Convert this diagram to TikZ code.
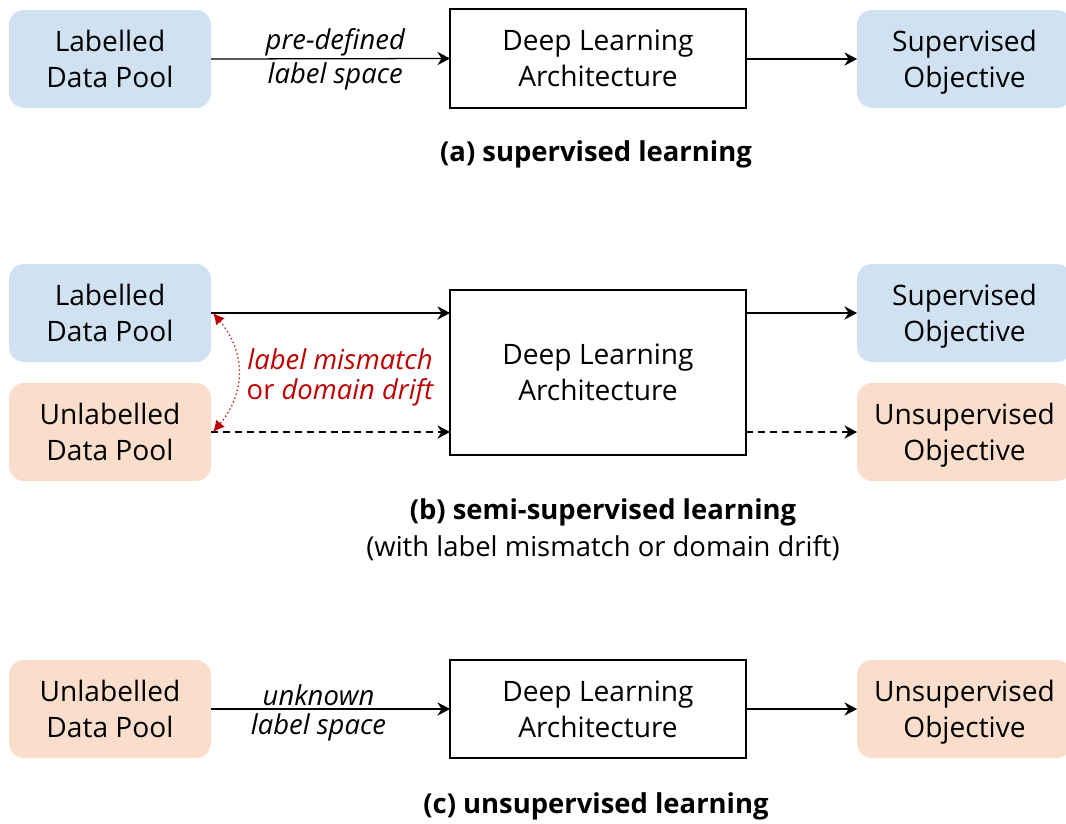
\documentclass[tikz,border=0pt]{standalone}
\usepackage{fontspec}
\setmainfont{Open Sans}
\usetikzlibrary{arrows.meta}
\definecolor{poolblue}{HTML}{D0E1F2}
\definecolor{poolorange}{HTML}{FADDCB}
\definecolor{driftred}{HTML}{C00000}
\newdimen\pxu
\pxu=0.025cm
\tikzset{
  x=0.025cm, y=-0.025cm,
  every node/.style={inner sep=0pt, outer sep=0pt},
  mainfont/.style={font=\fontsize{20}{25.6}\selectfont},
  pool/.style={mainfont, rounded corners=0.38cm, minimum width=202*\pxu, minimum height=98*\pxu, align=center, text depth=-1.5pt},
  bluepool/.style={pool, fill=poolblue},
  orangepool/.style={pool, fill=poolorange},
  archbox/.style={mainfont, draw=black, line width=1pt, minimum width=296*\pxu, align=center, text depth=-1.5pt},
  flow/.style={line width=0.9pt, -{Stealth[length=9pt, width=9.5pt, inset=3pt]}},
  dflow/.style={flow, dash pattern=on 5pt off 3.5pt},
  edgelabel/.style={font=\fontsize{19.5}{22.5}\selectfont\itshape, align=center},
  caption/.style={font=\fontsize{19.5}{24}\selectfont\bfseries},
  subcaption/.style={font=\fontsize{19.5}{24}\selectfont},
  drift/.style={driftred, line width=0.9pt, dotted, {Latex[length=8pt,width=8pt]}-{Latex[length=8pt,width=8pt]}}
}
\begin{document}
\begin{tikzpicture}
\useasboundingbox (0,0) rectangle (1066,823);

% (a) supervised learning
\node[bluepool, anchor=north west] (aL) at (9,10) {Labelled\\Data Pool};
\node[archbox, minimum height=99*\pxu, anchor=north west] (aD) at (450,9) {Deep Learning\\Architecture};
\node[bluepool, anchor=north west, minimum width=215*\pxu] (aS) at (857,10) {Supervised\\Objective};
\draw[flow] (aL.east) -- (aD.west)
  node[edgelabel, pos=0.52, above=2pt] {pre-defined}
  node[edgelabel, pos=0.52, below=3pt] {label space};
\draw[flow] (aD.east |- aS.west) -- (aS.west);
\node[caption] (aC) at (596,154) {(a) supervised learning};

% (b) semi-supervised learning
\node[bluepool, anchor=north west] (bL) at (9,264) {Labelled\\Data Pool};
\node[orangepool, anchor=north west] (bU) at (9,383) {Unlabelled\\Data Pool};
\node[archbox, minimum height=165*\pxu, anchor=north west] (bD) at (450,290) {Deep Learning\\Architecture};
\node[bluepool, anchor=north west, minimum width=215*\pxu] (bS) at (857,264) {Supervised\\Objective};
\node[orangepool, anchor=north west, minimum width=215*\pxu] (bO) at (857,383) {Unsupervised\\Objective};
\coordinate (bLo) at ([xshift=1.5pt]bL.east);
\coordinate (bUo) at ([xshift=1.5pt]bU.east);
\draw[flow] (bL.east) -- (bL.east -| bD.west);
\draw[dflow] (bU.east) -- (bU.east -| bD.west);
\draw[flow] (bD.east |- bS.west) -- (bS.west);
\draw[dflow] (bD.east |- bO.west) -- (bO.west);
\draw[drift] (bLo) to[out=-50, in=50, looseness=1.1] (bUo);
\node[edgelabel, driftred, anchor=center] (bM) at (340,359) {label mismatch};
\node[edgelabel, driftred, anchor=center] (bR) at (340,392) {\upshape or \itshape domain drift};
\node[caption] (bC) at (603,512) {(b) semi-supervised learning};
\node[subcaption] (bC2) at (603,548) {(with label mismatch or domain drift)};

% (c) unsupervised learning
\node[orangepool, anchor=north west] (cU) at (9,660) {Unlabelled\\Data Pool};
\node[archbox, minimum height=98*\pxu, anchor=north west] (cD) at (450,660) {Deep Learning\\Architecture};
\node[orangepool, anchor=north west, minimum width=215*\pxu] (cO) at (857,660) {Unsupervised\\Objective};
\draw[flow] (cU.east) -- (cD.west)
  node[edgelabel, pos=0.45, above=2pt] {unknown}
  node[edgelabel, pos=0.45, below=3pt] {label space};
\draw[flow] (cD.east |- cO.west) -- (cO.west);
\node[caption] (cC) at (596,806) {(c) unsupervised learning};
\end{tikzpicture}
\end{document}
